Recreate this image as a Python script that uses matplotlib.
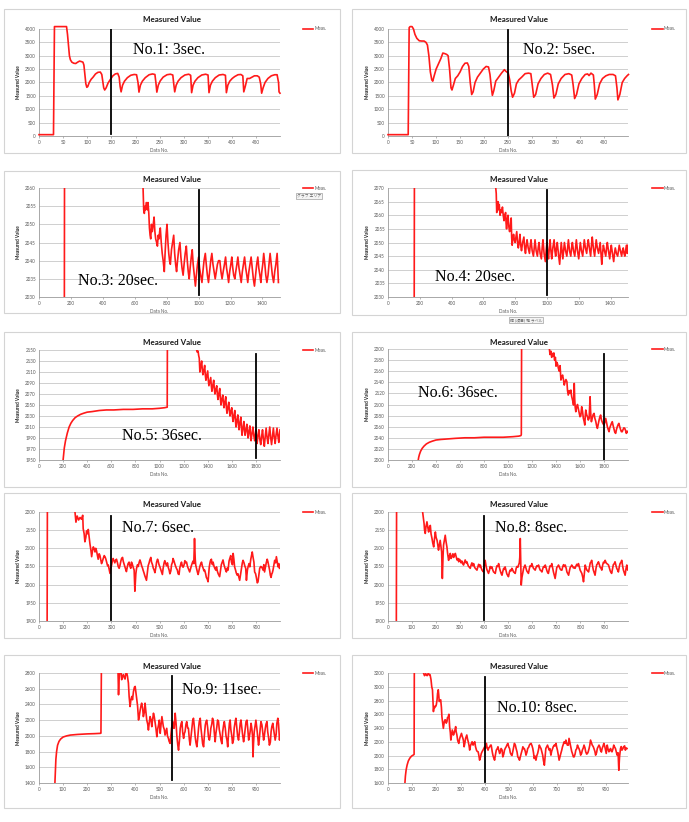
import matplotlib
matplotlib.use("Agg")
import matplotlib.pyplot as plt
from matplotlib.patches import Rectangle

# ---------------- data ----------------
titles = ["Measured Value"] * 10
notes = ["No.1: 3sec.", "No.2: 5sec.", "No.3: 20sec.", "No.4: 20sec.", "No.5: 36sec.",
         "No.6: 36sec.", "No.7: 6sec.", "No.8: 8sec.", "No.9: 11sec.", "No.10: 8sec."]
marker_x = [150, 250, 1000, 1000, 1800, 1800, 300, 400, 550, 400]

xlims = [(0, 499), (0, 499), (0, 1510), (0, 1510), (0, 2000), (0, 2000),
         (0, 998), (0, 998), (0, 1000), (0, 993)]
xticks = [list(range(0, 451, 50)), list(range(0, 451, 50)),
          list(range(0, 1401, 200)), list(range(0, 1401, 200)),
          list(range(0, 1801, 200)), list(range(0, 1801, 200)),
          list(range(0, 901, 100)), list(range(0, 901, 100)),
          list(range(0, 901, 100)), list(range(0, 901, 100))]
ylims = [(0, 4000), (0, 4000), (2030, 2060), (2030, 2070), (1950, 2150),
         (2000, 2200), (1900, 2200), (1900, 2200), (1400, 2800), (1600, 3200)]
ysteps = [500, 500, 5, 5, 20, 20, 50, 50, 200, 200]

p1 = [(0,50),(30,50),(32,4090),(57,4090),(59,3800),(61,3400),(63,3000),(65,2850),(68,2760),(72,2720),(76,2710),(80,2760),(84,2800),(88,2780),(91,2760),(93,2650),(95,2300),(97,1950),(99,1820),(101,1850),(104,2000),(108,2120),(112,2200),(117,2320),(122,2380),(127,2390),(130,2300),(132,2050),(134,1800),(136,1720),(139,1800),(143,1980),(148,2120),(153,2250),(158,2320),(163,2340),(166,2200),(168,1850),(170,1650),(173,1900),(177,2050),(183,2180),(190,2270),(197,2300),(202,2290),(205,2000),(207,1640),(210,1900),(214,2050),(220,2180),(228,2290),(235,2320),(240,2300),(242,2000),(244,1640),(247,1900),(251,2060),(257,2200),(265,2290),(272,2310),(277,2280),(279,1950),(281,1650),(284,1900),(288,2050),(294,2180),(302,2280),(310,2310),(314,2270),(316,1620),(319,1900),(323,2050),(329,2180),(337,2280),(345,2310),(350,2280),(352,1620),(355,1900),(359,2050),(365,2180),(373,2280),(381,2300),(386,2270),(388,1620),(391,1900),(395,2050),(400,2150),(405,2220),(412,2290),(418,2300),(422,2250),(424,1650),(427,1850),(431,2150),(436,2150),(441,2200),(446,2250),(452,2250),(456,2200),(459,1950),(461,1600),(464,1800),(468,2000),(474,2150),(481,2250),(488,2290),(493,2290),(496,2000),(497,1650),(499,1600)]

p2 = [(0,50),(42,50),(44,4050),(46,4090),(50,4090),(53,4000),(56,3800),(60,3650),(65,3560),(70,3550),(75,3550),(79,3500),(82,3400),(85,3000),(88,2400),(91,2100),(93,2050),(96,2250),(100,2500),(105,2700),(110,2900),(114,3100),(118,3080),(122,3050),(125,3000),(128,2500),(131,1800),(133,1720),(136,1900),(140,2150),(145,2250),(150,2400),(155,2600),(160,2720),(165,2730),(168,2600),(171,2000),(174,1550),(177,1650),(181,2000),(186,2200),(192,2350),(198,2500),(204,2600),(209,2580),(212,2300),(215,1800),(217,1520),(220,1700),(224,2050),(230,2200),(236,2350),(242,2480),(245,2420),(248,2380),(250,2350),(253,2100),(256,1700),(259,1450),(263,1600),(267,1950),(272,2100),(278,2200),(285,2330),(292,2350),(297,2330),(300,1900),(303,1450),(307,1550),(312,1950),(318,2150),(325,2300),(332,2350),(338,2300),(342,1900),(345,1420),(349,1550),(354,1950),(360,2150),(368,2300),(376,2330),(382,2280),(385,1900),(388,1400),(392,1550),(397,1950),(403,2150),(410,2300),(415,2320),(418,2260),(422,2350),(427,2280),(429,1900),(431,1380),(435,1550),(440,1950),(446,2150),(453,2250),(460,2300),(468,2300),(473,2250),(476,1800),(478,1350),(482,1550),(487,2000),(492,2150),(497,2250),(500,2300)]

p3 = [(0,2000),(158,2000),(161,2100),(648,2100),(652,2060),(656,2054),(660,2053),(664,2055),(668,2054),(672,2056),(676,2055),(680,2054),(683,2056),(688,2053),(692,2049),(696,2047),(700,2046),(705,2050),(710,2048),(716,2050),(721,2052),(726,2048),(731,2046),(737,2045),(742,2044),(747,2047),(752,2046),(756,2048),(760,2049),(766,2045),(772,2042),(778,2040),(785,2037),(790,2042),(796,2047),(802,2050),(808,2045),(813,2042),(818,2040),(823,2039),(830,2043),(837,2045),(844,2047),(850,2042),(856,2039),(862,2037),(868,2040),(875,2043),(883,2045),(889,2041),(896,2038),(903,2036),(909,2039),(916,2042),(923,2044),(929,2040),(935,2037),(941,2035),(947,2038),(954,2041),(960,2043),(966,2039),(973,2036),(980,2033),(986,2036),(993,2039),(1000,2041),(1006,2038),(1013,2036),(1021,2034),(1027,2037),(1034,2040),(1042,2042),(1048,2039),(1055,2036),(1062,2034),(1069,2037),(1076,2040),(1083,2042),(1090,2039),(1097,2037),(1104,2035),(1111,2037),(1118,2039),(1125,2040),(1133,2040),(1140,2037),(1147,2035),(1154,2037),(1162,2039),(1169,2041),(1175,2038),(1182,2036),(1188,2034),(1195,2037),(1202,2039),(1208,2041),(1214,2038),(1220,2036),(1227,2035),(1233,2037),(1240,2039),(1246,2041),(1253,2038),(1260,2036),(1267,2034),(1274,2037),(1281,2039),(1288,2041),(1295,2038),(1302,2036),(1308,2034),(1315,2037),(1322,2039),(1329,2041),(1336,2038),(1343,2035),(1350,2033),(1357,2036),(1364,2039),(1371,2041),(1377,2038),(1384,2036),(1390,2034),(1396,2037),(1402,2039),(1408,2042),(1415,2039),(1421,2036),(1428,2034),(1435,2036),(1441,2039),(1448,2042),(1455,2039),(1462,2036),(1470,2034),(1477,2037),(1484,2039),(1492,2042),(1496,2038),(1500,2034)]

p4 = [(0,2000),(164,2000),(167,2100),(676,2100),(678,2070),(681,2068),(684,2061),(688,2063),(692,2065),(696,2062),(700,2064),(705,2060),(710,2062),(715,2061),(720,2063),(725,2060),(730,2058),(735,2060),(740,2061),(743,2057),(746,2055),(750,2058),(755,2060),(760,2056),(765,2054),(770,2056),(775,2059),(778,2052),(781,2049),(785,2051),(790,2053),(795,2051),(800,2050),(805,2052),(810,2054),(815,2050),(820,2048),(825,2050),(830,2053),(835,2049),(840,2047),(847,2050),(855,2052),(860,2048),(865,2046),(870,2049),(875,2051),(882,2048),(890,2046),(895,2049),(900,2051),(907,2047),(915,2045),(920,2048),(925,2051),(932,2047),(940,2045),(945,2048),(950,2050),(957,2046),(965,2044),(970,2048),(975,2051),(982,2046),(990,2043),(995,2047),(1000,2050),(1005,2046),(1010,2044),(1015,2048),(1020,2051),(1025,2047),(1030,2044),(1037,2048),(1045,2051),(1050,2047),(1055,2045),(1060,2048),(1065,2050),(1072,2046),(1080,2042),(1085,2046),(1090,2050),(1095,2047),(1100,2044),(1105,2047),(1110,2050),(1117,2047),(1125,2045),(1130,2048),(1135,2051),(1142,2047),(1150,2045),(1155,2048),(1160,2050),(1167,2047),(1175,2045),(1180,2048),(1185,2051),(1192,2047),(1200,2044),(1205,2047),(1210,2050),(1217,2047),(1225,2045),(1230,2048),(1235,2051),(1242,2048),(1250,2046),(1255,2049),(1260,2051),(1267,2048),(1275,2045),(1280,2049),(1285,2052),(1292,2048),(1300,2045),(1305,2048),(1310,2051),(1317,2048),(1325,2046),(1330,2048),(1335,2050),(1340,2046),(1345,2042),(1350,2046),(1355,2049),(1362,2047),(1370,2045),(1375,2048),(1380,2050),(1387,2047),(1395,2044),(1400,2047),(1405,2049),(1412,2046),(1420,2043),(1425,2046),(1430,2048),(1437,2046),(1445,2045),(1450,2047),(1455,2049),(1462,2047),(1470,2045),(1475,2047),(1480,2048),(1485,2046),(1490,2045),(1495,2047),(1500,2049),(1505,2046),(1510,2049)]

p5 = [(0,1900),(195,1900),(200,1950),(205,1962),(210,1972),(220,1985),(235,1999),(250,2010),(265,2017),(280,2022),(300,2027),(320,2030),(345,2033),(370,2035),(400,2037),(440,2038),(500,2040),(560,2041),(620,2041),(700,2042),(780,2042),(860,2043),(940,2043),(1000,2044),(1040,2045),(1062,2046),(1064,2046),(1066,2200),(1300,2200),(1308,2150),(1314,2146),(1320,2148),(1325,2140),(1330,2135),(1335,2110),(1342,2120),(1350,2130),(1355,2115),(1360,2105),(1367,2112),(1375,2122),(1380,2105),(1385,2095),(1392,2103),(1400,2112),(1405,2095),(1410,2085),(1417,2092),(1425,2100),(1430,2085),(1435,2075),(1442,2085),(1450,2095),(1455,2080),(1460,2070),(1467,2078),(1475,2085),(1480,2070),(1485,2060),(1492,2070),(1500,2080),(1505,2062),(1510,2050),(1517,2060),(1525,2068),(1530,2055),(1535,2045),(1542,2055),(1550,2065),(1555,2045),(1560,2035),(1567,2045),(1575,2055),(1580,2040),(1585,2030),(1592,2038),(1600,2045),(1605,2030),(1610,2020),(1617,2030),(1625,2040),(1630,2022),(1635,2010),(1642,2022),(1650,2032),(1655,2015),(1660,2005),(1667,2018),(1675,2028),(1680,2008),(1685,1995),(1692,2008),(1700,2020),(1705,2005),(1710,1995),(1717,2005),(1725,2015),(1730,2000),(1735,1990),(1742,2002),(1750,2012),(1755,1995),(1760,1985),(1767,1998),(1775,2010),(1782,1995),(1790,1985),(1795,1995),(1800,2005),(1805,1990),(1810,1980),(1817,1995),(1825,2005),(1832,1988),(1840,1978),(1847,1992),(1855,2005),(1862,1988),(1870,1975),(1877,1992),(1885,2008),(1892,1992),(1900,1980),(1907,1995),(1915,2010),(1922,1992),(1930,1978),(1937,1992),(1945,2008),(1952,1992),(1960,1980),(1967,1995),(1975,2008),(1982,1995),(1990,1982),(1995,1995),(2000,2005)]

p6 = [(0,1950),(248,1950),(252,2000),(256,2005),(262,2010),(272,2016),(285,2021),(300,2025),(320,2029),(345,2032),(370,2034),(400,2036),(440,2037),(500,2038),(560,2039),(640,2040),(720,2040),(800,2041),(880,2041),(960,2041),(1040,2042),(1090,2043),(1108,2044),(1111,2046),(1114,2250),(1340,2250),(1345,2200),(1350,2190),(1358,2196),(1364,2185),(1370,2192),(1376,2187),(1382,2193),(1388,2180),(1395,2185),(1400,2169),(1407,2176),(1414,2172),(1420,2165),(1427,2160),(1434,2170),(1441,2144),(1448,2150),(1455,2153),(1462,2145),(1469,2135),(1476,2141),(1483,2145),(1491,2141),(1496,2125),(1502,2117),(1510,2125),(1517,2120),(1524,2126),(1530,2115),(1538,2108),(1546,2099),(1549,2110),(1552,2138),(1556,2110),(1560,2095),(1565,2087),(1572,2095),(1579,2100),(1586,2092),(1593,2085),(1600,2078),(1607,2080),(1614,2096),(1621,2088),(1628,2075),(1634,2070),(1640,2063),(1644,2080),(1648,2090),(1655,2082),(1662,2078),(1669,2072),(1676,2075),(1680,2095),(1684,2114),(1688,2090),(1692,2075),(1695,2069),(1702,2075),(1710,2082),(1717,2084),(1724,2075),(1731,2070),(1738,2062),(1745,2057),(1752,2065),(1759,2072),(1766,2078),(1772,2081),(1779,2072),(1786,2068),(1793,2065),(1800,2063),(1807,2068),(1814,2075),(1821,2068),(1828,2060),(1835,2055),(1842,2051),(1848,2058),(1855,2062),(1862,2066),(1869,2069),(1876,2062),(1883,2056),(1890,2050),(1897,2048),(1904,2055),(1911,2060),(1918,2064),(1924,2066),(1931,2060),(1938,2055),(1945,2051),(1952,2051),(1959,2055),(1966,2058),(1973,2057),(1980,2053),(1986,2048),(1993,2052),(2000,2050)]

p7 = [(0,1700),(33,1700),(35,2300),(145,2300),(149,2200),(153,2172),(158,2189),(164,2178),(170,2185),(176,2180),(181,2191),(183,2154),(187,2140),(190,2118),(194,2130),(197,2148),(201,2140),(204,2152),(208,2130),(211,2112),(215,2095),(218,2077),(222,2095),(225,2104),(229,2098),(232,2090),(235,2100),(238,2094),(242,2080),(245,2070),(249,2085),(252,2081),(256,2068),(259,2058),(263,2065),(266,2072),(270,2080),(274,2076),(277,2070),(281,2060),(284,2052),(287,2054),(291,2040),(294,2031),(297,2045),(300,2052),(304,2066),(307,2072),(311,2065),(314,2060),(318,2068),(321,2070),(325,2060),(328,2050),(332,2045),(335,2052),(339,2065),(342,2072),(346,2075),(349,2064),(353,2055),(356,2048),(360,2040),(362,2036),(366,2050),(369,2058),(373,2062),(376,2052),(380,2045),(383,2062),(387,2055),(390,2048),(394,2040),(397,1982),(401,2030),(404,2045),(408,2055),(411,2050),(415,2062),(418,2068),(422,2060),(425,2052),(429,2045),(431,2040),(435,2032),(438,2025),(442,2018),(445,2012),(449,2035),(452,2052),(456,2060),(459,2068),(463,2075),(466,2062),(470,2055),(473,2046),(477,2040),(480,2033),(484,2048),(487,2062),(491,2070),(493,2066),(497,2055),(500,2050),(504,2042),(507,2036),(511,2028),(514,2045),(518,2060),(521,2066),(525,2058),(528,2052),(532,2060),(535,2048),(539,2040),(542,2030),(546,2038),(549,2055),(553,2062),(555,2072),(559,2065),(562,2058),(566,2050),(569,2045),(573,2040),(576,2030),(580,2028),(583,2046),(587,2056),(590,2062),(594,2050),(597,2048),(601,2055),(604,2066),(608,2060),(611,2062),(615,2050),(618,2045),(622,2038),(624,2035),(628,2045),(631,2052),(635,2060),(638,2065),(641,2058),(644,2127),(647,2070),(649,2054),(652,2045),(654,2040),(657,2032),(659,2028),(663,2040),(666,2050),(670,2058),(673,2062),(677,2050),(680,2045),(683,2038),(686,2040),(690,2030),(693,2020),(697,2015),(700,2008),(703,2030),(705,2048),(708,2060),(710,2066),(714,2070),(716,2058),(719,2055),(721,2062),(725,2050),(728,2045),(732,2040),(735,2049),(739,2036),(742,2030),(745,2026),(748,2022),(752,2040),(755,2055),(759,2062),(762,2068),(766,2055),(769,2048),(773,2040),(776,2035),(780,2046),(783,2040),(787,2065),(790,2072),(794,2080),(797,2062),(801,2055),(804,2086),(807,2070),(810,2049),(814,2040),(817,2032),(821,2026),(824,2030),(828,2020),(831,2012),(835,2030),(838,2045),(842,2060),(845,2067),(849,2060),(852,2052),(856,2045),(859,2012),(863,2040),(866,2050),(870,2058),(873,2049),(877,2070),(880,2080),(883,2090),(886,2077),(890,2062),(893,2035),(897,2030),(900,2020),(904,2005),(907,2008),(911,2030),(914,2045),(918,2050),(921,2049),(925,2045),(928,2040),(931,2055),(934,2035),(938,2050),(941,2060),(945,2070),(948,2063),(952,2050),(955,2040),(958,2026),(961,2020),(964,2030),(966,2032),(969,2040),(973,2055),(976,2067),(980,2060),(983,2077),(986,2065),(990,2049),(993,2058),(996,2045)]

p8 = [(0,1700),(34,1700),(36,2300),(142,2300),(144,2200),(147,2185),(150,2168),(152,2150),(155,2141),(158,2160),(162,2173),(165,2160),(169,2145),(172,2158),(176,2163),(179,2140),(183,2127),(186,2115),(190,2104),(193,2125),(197,2145),(200,2130),(204,2122),(207,2110),(210,2095),(214,2110),(217,2122),(220,2105),(223,2090),(226,2017),(229,2080),(231,2109),(235,2125),(238,2136),(241,2120),(245,2104),(248,2085),(252,2067),(255,2078),(259,2086),(262,2072),(266,2077),(270,2085),(273,2075),(277,2082),(280,2086),(284,2075),(287,2068),(291,2072),(294,2063),(297,2070),(300,2067),(304,2060),(307,2065),(311,2058),(314,2054),(318,2062),(321,2068),(325,2060),(328,2063),(332,2055),(335,2050),(339,2048),(342,2045),(346,2055),(349,2060),(353,2052),(356,2058),(360,2048),(363,2045),(367,2042),(370,2040),(374,2050),(377,2056),(381,2049),(384,2054),(388,2045),(391,2040),(394,2038),(397,2035),(401,2055),(404,2067),(408,2050),(411,2042),(415,2036),(418,2031),(422,2040),(425,2050),(429,2045),(432,2049),(436,2040),(439,2035),(443,2033),(446,2031),(450,2045),(453,2052),(457,2050),(460,2058),(464,2045),(467,2038),(471,2030),(474,2026),(478,2038),(481,2045),(484,2042),(487,2049),(491,2038),(494,2030),(498,2025),(501,2022),(505,2035),(508,2040),(512,2038),(515,2045),(519,2040),(522,2035),(526,2033),(529,2031),(533,2045),(536,2050),(540,2048),(543,2054),(546,2060),(548,2075),(550,2127),(552,2060),(554,1999),(557,2020),(561,2035),(564,2045),(567,2050),(570,2054),(574,2045),(577,2038),(581,2034),(584,2031),(588,2045),(591,2052),(595,2050),(598,2058),(602,2050),(605,2045),(609,2042),(612,2040),(616,2048),(619,2052),(623,2050),(626,2054),(630,2045),(633,2040),(637,2038),(640,2035),(644,2045),(647,2050),(651,2048),(654,2054),(658,2045),(661,2038),(664,2033),(667,2031),(671,2045),(674,2052),(678,2050),(681,2058),(685,2045),(688,2035),(692,2025),(695,2017),(699,2035),(702,2048),(706,2050),(709,2054),(713,2048),(716,2043),(720,2040),(723,2040),(727,2050),(730,2055),(734,2050),(737,2054),(741,2045),(744,2035),(748,2030),(751,2026),(755,2040),(758,2048),(761,2050),(764,2054),(768,2050),(771,2046),(775,2048),(778,2045),(782,2052),(785,2056),(789,2052),(792,2058),(796,2048),(799,2040),(803,2035),(806,2031),(810,2020),(813,2008),(817,2035),(820,2054),(824,2045),(827,2040),(831,2038),(834,2035),(838,2050),(841,2060),(844,2062),(847,2067),(851,2050),(854,2040),(858,2032),(861,2026),(865,2045),(868,2055),(872,2058),(875,2063),(879,2055),(882,2048),(886,2045),(889,2040),(893,2055),(896,2062),(900,2060),(903,2067),(907,2060),(910,2058),(914,2056),(917,2054),(921,2045),(924,2038),(927,2034),(930,2031),(934,2045),(937,2055),(941,2058),(944,2063),(948,2052),(951,2045),(955,2040),(958,2035),(962,2050),(965,2058),(969,2062),(972,2067),(976,2050),(979,2040),(983,2032),(986,2026),(990,2045),(993,2054),(997,2040),(1000,2048)]

p9 = [(0,1300),(64,1300),(66,1400),(68,1550),(70,1700),(73,1800),(77,1880),(83,1930),(90,1960),(100,1985),(115,2000),(130,2010),(160,2018),(200,2025),(230,2028),(255,2032),(257,2035),(259,2900),(326,2900),(328,2800),(330,2523),(332,2700),(334,2800),(338,2900),(343,2715),(347,2760),(350,2779),(354,2740),(357,2723),(360,2790),(364,2800),(367,2760),(371,2672),(374,2500),(378,2373),(381,2450),(385,2501),(388,2460),(392,2565),(396,2620),(399,2629),(402,2560),(406,2458),(409,2380),(413,2202),(416,2250),(420,2330),(423,2380),(426,2416),(430,2350),(433,2245),(437,2300),(440,2416),(444,2300),(447,2202),(451,2150),(454,2074),(458,2180),(461,2245),(465,2200),(468,2117),(471,2200),(475,2288),(478,2250),(482,2160),(485,2100),(489,1989),(492,2080),(496,2138),(499,2200),(503,2032),(506,2130),(510,2245),(513,2180),(516,2117),(520,2080),(523,2010),(527,2060),(530,2096),(533,2000),(537,1968),(540,1930),(544,1904),(547,2000),(550,2096),(553,2150),(555,2181),(558,2100),(561,2096),(563,2200),(565,2288),(569,2150),(572,2000),(576,1880),(579,1818),(583,1950),(586,2096),(590,2160),(593,2181),(596,2050),(600,1968),(603,2030),(606,2053),(610,2150),(613,2181),(617,2100),(620,2096),(624,1950),(627,1882),(631,2000),(634,2096),(638,2200),(641,2224),(645,2100),(648,1989),(651,1920),(655,1861),(658,1950),(662,2096),(665,2180),(669,2224),(672,2100),(676,1989),(679,1900),(683,1861),(686,2000),(690,2138),(693,2181),(696,2200),(700,2100),(703,1989),(707,1946),(710,2000),(713,2096),(717,2150),(720,2224),(724,2181),(727,2053),(731,1925),(734,2032),(738,2117),(741,2202),(745,2181),(748,2080),(752,2010),(755,1946),(759,1900),(762,2050),(766,2138),(769,2181),(773,2096),(776,2000),(780,1946),(783,1861),(786,2010),(790,2160),(793,2202),(796,2080),(800,2000),(803,1904),(807,1950),(810,2100),(814,2181),(817,2224),(821,2100),(824,2000),(828,1946),(831,2030),(835,2160),(838,2202),(842,2096),(845,2010),(849,1925),(852,1990),(856,2100),(859,2181),(863,2200),(866,2100),(870,1946),(873,1990),(876,2053),(880,2160),(883,2096),(886,2000),(888,1733),(890,1900),(893,2050),(897,2138),(900,2200),(904,2096),(907,2000),(911,1882),(914,1950),(918,2096),(921,2181),(925,2140),(928,2053),(932,1946),(935,2000),(939,2096),(942,2150),(946,2181),(949,2053),(953,1968),(956,1882),(960,1920),(963,2053),(966,2117),(970,2160),(973,2096),(977,2010),(980,1946),(984,2020),(987,2160),(991,2224),(994,2150),(998,1946),(1000,2010)]

p10 = [(0,1500),(69,1500),(70,1600),(72,1700),(75,1790),(79,1860),(84,1920),(90,1960),(97,1990),(104,2005),(107,2010),(108,2015),(109,3400),(146,3400),(147,3200),(151,3161),(154,3180),(156,3190),(159,3170),(162,3161),(165,3185),(167,3200),(171,3170),(174,3176),(176,3140),(178,3102),(181,3000),(184,2956),(186,2800),(188,2639),(190,2700),(192,2688),(195,2720),(197,2712),(200,2740),(203,2810),(205,2900),(208,2956),(210,2880),(212,2785),(215,2800),(218,2810),(221,2700),(223,2566),(226,2480),(229,2395),(231,2450),(233,2493),(236,2520),(238,2517),(241,2470),(244,2493),(246,2550),(249,2560),(252,2600),(255,2420),(258,2330),(260,2224),(263,2300),(266,2371),(268,2340),(271,2298),(274,2330),(277,2371),(280,2420),(282,2346),(285,2300),(288,2224),(290,2200),(293,2176),(296,2240),(299,2273),(302,2300),(304,2322),(307,2280),(310,2249),(312,2220),(315,2127),(318,2180),(321,2249),(323,2270),(326,2298),(329,2240),(332,2200),(335,2150),(338,2078),(341,2140),(345,2176),(348,2200),(352,2151),(355,2180),(359,2200),(362,2130),(366,2078),(369,2060),(373,2054),(376,2000),(379,1932),(383,1980),(386,2029),(390,2060),(393,2078),(396,2100),(400,2127),(403,2100),(407,2176),(410,2120),(414,2078),(417,2110),(421,2127),(424,2150),(427,2151),(431,2060),(434,2005),(438,1960),(441,1932),(444,2000),(448,2078),(452,2100),(455,2127),(458,2080),(462,2029),(465,2060),(468,2102),(472,2080),(475,1980),(479,2020),(482,2078),(486,2110),(489,2127),(493,2160),(496,2176),(500,2120),(503,2102),(506,2040),(510,2010),(513,2000),(516,2054),(520,2120),(523,2176),(527,2150),(530,2102),(534,2050),(537,1980),(541,1960),(544,1932),(548,1990),(551,2029),(555,2080),(558,2127),(561,2100),(564,2102),(568,2060),(571,2005),(575,2050),(578,2102),(582,2120),(585,2151),(589,2170),(592,2176),(596,2140),(599,2102),(602,2040),(605,1956),(609,1990),(612,1932),(616,2000),(619,2029),(623,2090),(626,2151),(630,2120),(633,2102),(636,2060),(640,2005),(643,1930),(647,1859),(650,1990),(653,2102),(657,2130),(660,2151),(663,2120),(667,2078),(670,2100),(674,2005),(677,2060),(681,2102),(684,2130),(688,2151),(691,2140),(695,2176),(698,2120),(701,2078),(705,2000),(708,1932),(712,1990),(715,2029),(719,2080),(722,2127),(726,2170),(729,2200),(733,2176),(736,2224),(739,2180),(742,2151),(746,2150),(749,2249),(753,2180),(756,2127),(760,2060),(763,2029),(767,1980),(770,1980),(774,2020),(777,2078),(781,2100),(784,2151),(787,2120),(790,2102),(794,2060),(797,2005),(801,2030),(804,2078),(808,2110),(811,2151),(815,2110),(818,2054),(822,2020),(825,2029),(828,2050),(832,2102),(835,2150),(838,2224),(842,2180),(845,2151),(849,2130),(852,2102),(856,2060),(859,2005),(863,2040),(866,2102),(870,2130),(873,2151),(877,2120),(879,2078),(883,2050),(886,2102),(890,2140),(893,2176),(897,2130),(900,2078),(903,2030),(907,2151),(910,2100),(914,2054),(917,2080),(921,2102),(924,2060),(927,2054),(931,2100),(934,2151),(938,2120),(941,2102),(945,2050),(948,2005),(952,2040),(955,1785),(958,1980),(962,2102),(965,2130),(968,2078),(972,2100),(975,2127),(979,2140),(982,2078),(986,2110),(989,2102)]

series = [p1, p2, p3, p4, p5, p6, p7, p8, p9, p10]

# ---------------- layout (pixels) ----------------
W, H = 689, 822
plot_boxes = [(39, 29, 280, 136), (388, 29, 628, 136),
              (39, 188, 280, 297), (388, 188, 628, 297),
              (39, 350, 280, 460), (388, 349, 628, 460),
              (39, 512, 280, 621), (388, 512, 628, 621),
              (39, 673, 280, 783), (388, 673, 628, 783)]
frames = [(4, 9, 340, 153), (352, 9, 686, 153),
          (4, 171, 340, 313), (352, 170, 686, 315),
          (4, 332, 340, 487), (352, 332, 686, 487),
          (4, 493, 340, 638), (352, 493, 686, 638),
          (4, 655, 340, 808), (352, 655, 686, 808)]
title_y = [19, 19, 180, 180, 342, 342, 504, 504, 666, 666]
note_pos = [(133, 50), (523, 50), (78, 281), (435, 277), (122, 436),
            (418, 393), (122, 528), (495, 528), (182, 690), (497, 708)]
vline_span = [(0.02, 1.0), (0.0, 0.99), (0.02, 0.98), (0.02, 0.98), (0.02, 0.96),
              (0.0, 0.955), (0.01, 0.96), (0.01, 0.96), (0.025, 0.975), (0.01, 0.96)]

RED = "#ff1a1a"
GRID = "#c8c8c8"
TXT = "#595959"
small = 3.3

fig = plt.figure(figsize=(W / 100, H / 100), dpi=100)
fig.patch.set_facecolor("white")

for i in range(10):
    l, t, r, b = plot_boxes[i]
    ax = fig.add_axes([l / W, 1 - b / H, (r - l) / W, (b - t) / H])
    xs, ys = zip(*series[i])
    ax.plot(xs, ys, color=RED, lw=1.2, label="Meas.", clip_on=(i >= 2), zorder=3)
    y0, y1 = ylims[i]
    ax.set_xlim(*xlims[i])
    ax.set_ylim(y0, y1)
    ax.set_xticks(xticks[i])
    ax.set_yticks(list(range(y0, y1 + 1, ysteps[i])))
    ax.grid(axis="y", color=GRID, lw=0.6)
    ax.set_axisbelow(True)
    for s in ["top", "right"]:
        ax.spines[s].set_visible(False)
    for s in ["left", "bottom"]:
        ax.spines[s].set_color("#9a9a9a")
        ax.spines[s].set_linewidth(0.6)
    ax.tick_params(axis="both", labelsize=small, colors="#9a9a9a", labelcolor=TXT,
                   length=1.5, width=0.5, pad=1.2)
    ax.tick_params(axis="y", length=0, pad=2.2)
    for lab in ax.get_xticklabels() + ax.get_yticklabels():
        lab.set_fontfamily("Lato")
    ax.set_xlabel("Data No.", fontsize=small, color=TXT, labelpad=2.2, family="Lato")
    ax.set_ylabel("Measured Value", fontsize=small, color="#222222", labelpad=3,
                  fontweight="bold", family="Lato")
    ax.axvline(marker_x[i], ymin=vline_span[i][0], ymax=vline_span[i][1],
               color="black", lw=1.3, zorder=4)
    lx = 1.095 if i % 2 == 0 else 1.10
    leg = ax.legend(loc="center left", bbox_to_anchor=(lx, 1.0), frameon=False,
                    handlelength=2.3, handletextpad=0.3,
                    borderpad=0, borderaxespad=0, prop={"family": "Lato", "size": small})
    for txt in leg.get_texts():
        txt.set_color(TXT)

    fl, ft, fr, fb = frames[i]
    fig.add_artist(Rectangle((fl / W, 1 - fb / H), (fr - fl) / W, (fb - ft) / H,
                             transform=fig.transFigure, fill=False,
                             ec="#d4d4d4", lw=0.8))
    fig.text(((fl + fr) / 2) / W, 1 - title_y[i] / H, titles[i], ha="center",
             va="center", fontsize=5.8, fontweight="bold", family="Lato",
             color="#1a1a1a")
    nx, ny = note_pos[i]
    fig.text(nx / W, 1 - ny / H, notes[i], ha="left", va="center", fontsize=11.5,
             family="Liberation Serif", color="black")

# Excel tooltips visible in the screenshots
fig.text(309 / W, 1 - 196 / H, "グラフ エリア", ha="center", va="center", fontsize=2.8,
         family=["Noto Sans CJK JP", "DejaVu Sans"], color="#666666",
         bbox=dict(boxstyle="square,pad=0.3", fc="#f4f4f4", ec="#a0a0a0", lw=0.5))
fig.text(526 / W, 1 - 320 / H, "横 (項目) 軸 ラベル", ha="center", va="center",
         fontsize=2.8, family=["Noto Sans CJK JP", "DejaVu Sans"], color="#666666",
         bbox=dict(boxstyle="square,pad=0.3", fc="#f4f4f4", ec="#a0a0a0", lw=0.5))

fig.savefig("out.png", dpi=100)
